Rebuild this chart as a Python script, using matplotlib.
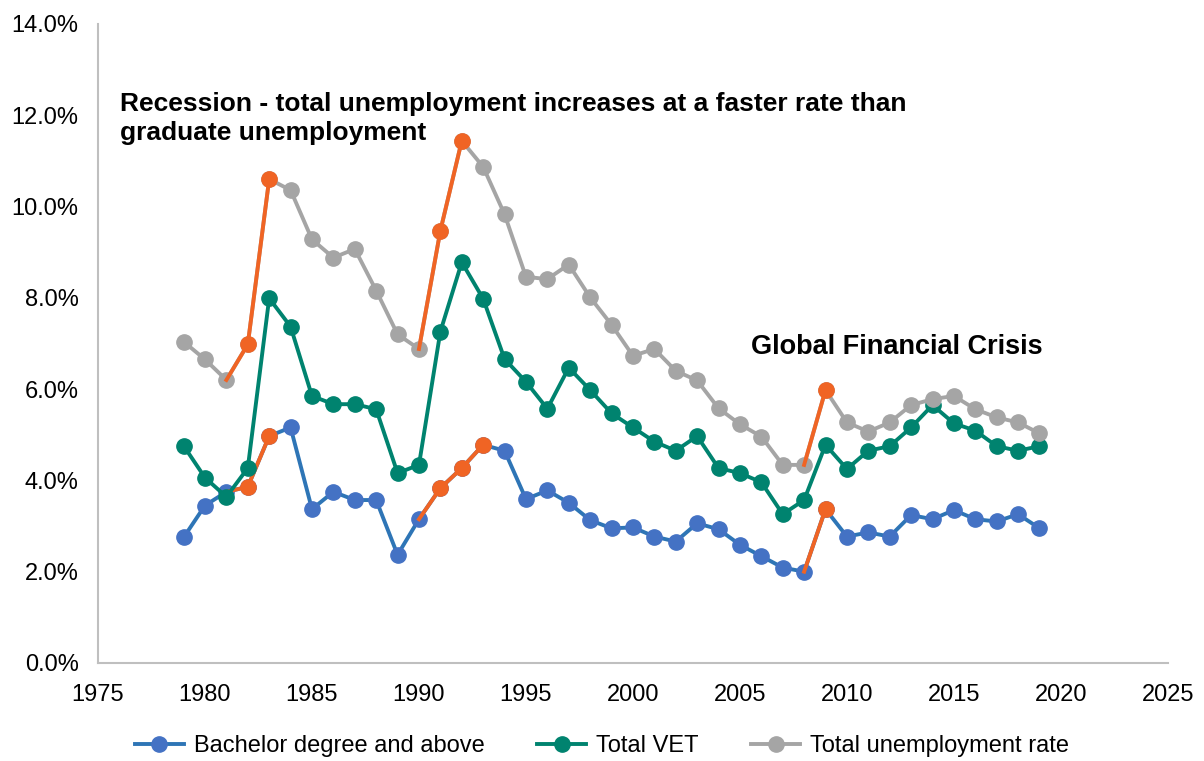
import matplotlib
matplotlib.use('Agg')
import matplotlib.pyplot as plt
from matplotlib.ticker import FuncFormatter

plt.rcParams['font.family'] = ['Liberation Sans', 'DejaVu Sans']

years = list(range(1979, 2020))

bachelor = [2.75, 3.45, 3.75, 3.86, 4.97, 5.16, 3.37, 3.75, 3.57, 3.57,
            2.37, 3.15, 3.83, 4.27, 4.78, 4.65, 3.59, 3.78, 3.51, 3.13,
            2.95, 2.97, 2.77, 2.66, 3.06, 2.93, 2.59, 2.34, 2.09, 2.00,
            3.37, 2.77, 2.86, 2.77, 3.24, 3.15, 3.35, 3.15, 3.10, 3.26,
            2.95]
vet = [4.76, 4.06, 3.64, 4.27, 7.99, 7.37, 5.85, 5.67, 5.67, 5.56,
       4.16, 4.34, 7.26, 8.78, 7.98, 6.66, 6.16, 5.57, 6.47, 5.98,
       5.47, 5.16, 4.85, 4.65, 4.97, 4.27, 4.16, 3.96, 3.26, 3.57,
       4.78, 4.25, 4.65, 4.75, 5.16, 5.65, 5.25, 5.09, 4.75, 4.65,
       4.75]
total = [7.04, 6.65, 6.20, 6.98, 10.60, 10.36, 9.28, 8.88, 9.07, 8.16,
         7.20, 6.88, 9.47, 11.44, 10.87, 9.83, 8.46, 8.41, 8.73, 8.01,
         7.41, 6.73, 6.88, 6.40, 6.19, 5.58, 5.23, 4.96, 4.34, 4.34,
         5.98, 5.27, 5.07, 5.27, 5.65, 5.78, 5.85, 5.56, 5.38, 5.27,
         5.03]

# recession stretches highlighted in orange (start year, end year)
rec_total = [(1981, 1983), (1990, 1992), (2008, 2009)]
rec_bachelor = [(1981, 1983), (1990, 1993), (2008, 2009)]

c_blue_line = '#2E75B6'
c_blue = '#4472C4'
c_teal = '#00836F'
c_grey = '#A5A5A5'
c_orange = '#F06424'

fig = plt.figure(figsize=(12.04, 7.61), dpi=100)
ax = fig.add_axes([0.0814, 0.1288, 0.8886, 0.8397])

lw = 2.8
ms = 11

l1, = ax.plot(years, bachelor, '-o', color=c_blue_line, mfc=c_blue, mec=c_blue,
              lw=lw, ms=ms, label='Bachelor degree and above', zorder=2)
l2, = ax.plot(years, vet, '-o', color=c_teal, mfc=c_teal, mec=c_teal,
              lw=lw, ms=ms, label='Total VET', zorder=3)
l3, = ax.plot(years, total, '-o', color=c_grey, mfc=c_grey, mec=c_grey,
              lw=lw, ms=ms, label='Total unemployment rate', zorder=4)


def highlight(series, segs, z):
    for a, b in segs:
        i0 = years.index(a)
        i1 = years.index(b)
        xs = years[i0:i1 + 1]
        ys = series[i0:i1 + 1]
        ax.plot(xs, ys, '-', color=c_orange, lw=lw, zorder=z)
        ax.plot(xs[1:], ys[1:], 'o', color=c_orange, ms=ms, zorder=z + 0.5)


highlight(bachelor, rec_bachelor, 2.2)
highlight(total, rec_total, 4.2)

ax.set_xlim(1975, 2025)
ax.set_ylim(0, 14)
ax.set_xticks(range(1975, 2030, 5))
ax.set_yticks(range(0, 16, 2))
ax.yaxis.set_major_formatter(FuncFormatter(lambda v, p: '%.1f%%' % v))
ax.tick_params(axis='both', length=0, labelsize=17, colors='#000000')
ax.tick_params(axis='y', pad=14)
ax.tick_params(axis='x', pad=15)

for s in ['top', 'right']:
    ax.spines[s].set_visible(False)
for s in ['left', 'bottom']:
    ax.spines[s].set_color('#BFBFBF')
    ax.spines[s].set_linewidth(1.5)

ax.text(1976.05, 12.52, 'Recession - total unemployment increases at a faster rate than\ngraduate unemployment',
        fontsize=19, fontweight='bold', va='top', ha='left', linespacing=1.3)
ax.text(2005.5, 6.93, 'Global Financial Crisis', fontsize=19.5, fontweight='bold',
        va='center', ha='left')

fig.legend(handles=[l1, l2, l3], loc='center', bbox_to_anchor=(0.5, 0.02),
           ncol=3, frameon=False, fontsize=17, handlelength=2.1,
           columnspacing=2.2, handletextpad=0.42)

fig.savefig('out.png', dpi=100)
